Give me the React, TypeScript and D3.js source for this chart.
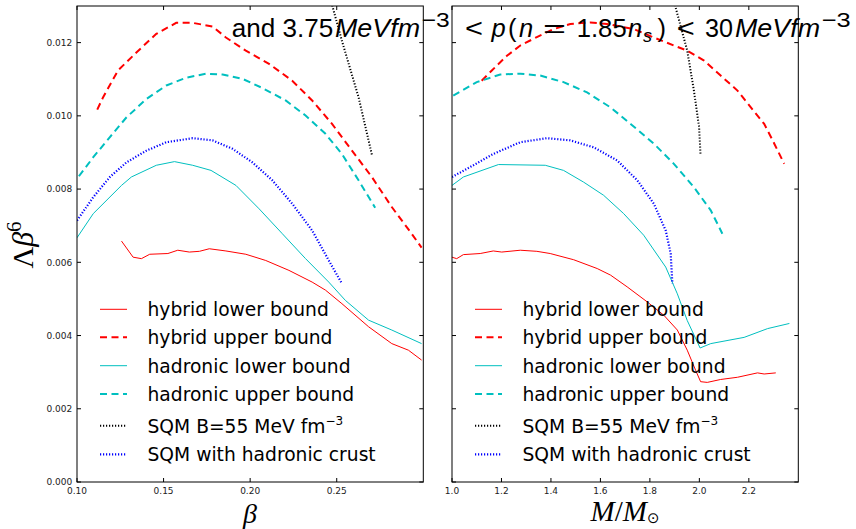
import React from 'react';
import * as d3 from 'd3';

type Pt = [number, number];

// ---- data: left panel (beta) ----
const hybridLowerBeta: Pt[] = [
  [0.1257, 0.00658], [0.1324, 0.00614], [0.1372, 0.0061], [0.142, 0.00622], [0.1525, 0.00624],
  [0.1582, 0.00633], [0.1649, 0.00628], [0.1707, 0.0063], [0.1764, 0.00637], [0.186, 0.00631],
  [0.1975, 0.00622], [0.209, 0.00605], [0.2224, 0.00578], [0.2358, 0.00546], [0.2435, 0.00524],
  [0.253, 0.00487], [0.2684, 0.00424], [0.2818, 0.00378], [0.2914, 0.0036], [0.299, 0.00333],
];
const hybridUpperBeta: Pt[] = [
  [0.1117, 0.01017], [0.1151, 0.01051], [0.1237, 0.01124], [0.1343, 0.01173], [0.1458, 0.01224],
  [0.1573, 0.01254], [0.1668, 0.01254], [0.1783, 0.01244], [0.186, 0.01214], [0.1975, 0.01178],
  [0.2109, 0.01142], [0.2243, 0.01096], [0.2358, 0.01042], [0.2473, 0.00978], [0.2588, 0.00905],
  [0.2703, 0.00833], [0.2818, 0.00751], [0.2933, 0.00678], [0.299, 0.0064],
];
const hadronicLowerBeta: Pt[] = [
  [0.1, 0.00667], [0.1094, 0.00733], [0.1257, 0.0081], [0.1314, 0.00833], [0.1458, 0.00865],
  [0.1563, 0.00875], [0.1668, 0.00865], [0.1774, 0.00851], [0.1918, 0.0081], [0.2052, 0.00746],
  [0.2186, 0.00678], [0.232, 0.0061], [0.2454, 0.00546], [0.255, 0.00496], [0.2684, 0.00442],
  [0.2818, 0.00415], [0.299, 0.00378],
];
const hadronicUpperBeta: Pt[] = [
  [0.1011, 0.00835], [0.1094, 0.00887], [0.119, 0.00942], [0.1286, 0.00996], [0.1401, 0.01046],
  [0.1516, 0.01083], [0.163, 0.01104], [0.1745, 0.01115], [0.1841, 0.01113], [0.1956, 0.01101],
  [0.2071, 0.01076], [0.2205, 0.01042], [0.232, 0.01001], [0.2435, 0.00951], [0.253, 0.00896],
  [0.2626, 0.00824], [0.2722, 0.00749],
];
const sqmBeta: Pt[] = [
  [0.2451, 0.01341], [0.253, 0.01205], [0.2626, 0.01051], [0.2703, 0.00894],
];
const sqmCrustBeta: Pt[] = [
  [0.1, 0.00714], [0.1094, 0.00778], [0.119, 0.00833], [0.1286, 0.00873], [0.1401, 0.00905],
  [0.1516, 0.00928], [0.1668, 0.00939], [0.1783, 0.00933], [0.1898, 0.0091], [0.2013, 0.00873],
  [0.2128, 0.00824], [0.2243, 0.0076], [0.2358, 0.00687], [0.2454, 0.00605], [0.253, 0.00542],
];

// ---- data: right panel (mass) ----
const hybridLowerMass: Pt[] = [
  [1.0, 0.00614], [1.019, 0.0061], [1.046, 0.00621], [1.114, 0.00624], [1.167, 0.00631],
  [1.201, 0.00628], [1.276, 0.00633], [1.343, 0.0063], [1.397, 0.00624], [1.492, 0.00607],
  [1.587, 0.00583], [1.641, 0.00565], [1.708, 0.00533], [1.789, 0.00492], [1.857, 0.00455],
  [1.911, 0.00415], [1.951, 0.0036], [1.985, 0.00305], [2.005, 0.00274], [2.032, 0.00272],
  [2.086, 0.0028], [2.154, 0.00286], [2.235, 0.00298], [2.262, 0.00295], [2.309, 0.00298],
];
const hybridUpperMass: Pt[] = [
  [1.12, 0.01096], [1.161, 0.01124], [1.222, 0.01164], [1.276, 0.01192], [1.343, 0.01215],
  [1.411, 0.01237], [1.478, 0.01251], [1.559, 0.01255], [1.627, 0.01251], [1.735, 0.01237],
  [1.816, 0.01214], [1.897, 0.01192], [1.951, 0.01178], [2.019, 0.01151], [2.086, 0.0111],
  [2.154, 0.01069], [2.208, 0.01023], [2.262, 0.00978], [2.303, 0.00924], [2.343, 0.00869],
];
const hadronicLowerMass: Pt[] = [
  [1.0, 0.0081], [1.046, 0.00833], [1.188, 0.00867], [1.377, 0.00865], [1.451, 0.00851],
  [1.532, 0.00819], [1.613, 0.00783], [1.694, 0.00733], [1.775, 0.00674], [1.864, 0.00587],
  [1.911, 0.00514], [1.951, 0.00441], [2.003, 0.00366], [2.046, 0.00378], [2.181, 0.00395],
  [2.276, 0.00419], [2.364, 0.00433],
];
const hadronicUpperMass: Pt[] = [
  [1.005, 0.01055], [1.1, 0.01092], [1.195, 0.01113], [1.276, 0.01115], [1.357, 0.0111],
  [1.451, 0.01092], [1.546, 0.01064], [1.641, 0.01023], [1.722, 0.00978], [1.816, 0.00924],
  [1.897, 0.00869], [1.978, 0.00805], [2.046, 0.00742], [2.093, 0.00678],
];
const sqmMass: Pt[] = [
  [1.896, 0.01327], [1.904, 0.01296], [1.951, 0.01178], [1.978, 0.01069], [1.999, 0.00969], [2.005, 0.00892],
];
const sqmCrustMass: Pt[] = [
  [1.0, 0.00833], [1.073, 0.0086], [1.167, 0.00896], [1.276, 0.00928], [1.384, 0.00939],
  [1.478, 0.00933], [1.573, 0.00914], [1.668, 0.00878], [1.749, 0.00824], [1.816, 0.0076],
  [1.864, 0.00687], [1.884, 0.00624], [1.891, 0.00542],
];

// ---- ticks & labels ----
const yTicks = [0, 0.002, 0.004, 0.006, 0.008, 0.01, 0.012];
const betaTicks = [0.1, 0.15, 0.2, 0.25];
const massTicks = [1.0, 1.2, 1.4, 1.6, 1.8, 2.0, 2.2];
const legendLabels = [
  'hybrid lower bound',
  'hybrid upper bound',
  'hadronic lower bound',
  'hadronic upper bound',
  'SQM B=55 MeV fm',
  'SQM with hadronic crust',
];

// styles (not data)
const styles = [
  { color: '#ff0000', width: 1, dash: undefined as string | undefined },
  { color: '#ff0000', width: 2, dash: '7,4.5' },
  { color: '#00bfbf', width: 1, dash: undefined },
  { color: '#00bfbf', width: 2, dash: '7,4.5' },
  { color: '#000000', width: 2, dash: '1.2,1.8' },
  { color: '#0000ff', width: 2.2, dash: '1.2,1.8' },
];

const W = 856;
const H = 529;
const TOP = 6;
const BOTTOM = 482;
const legendRows = [309.3, 337.3, 365.7, 394, 425.7, 454.3];

const y = d3.scaleLinear().domain([0, 0.013]).range([BOTTOM, TOP]);
const xL = d3.scaleLinear().domain([0.1, 0.3]).range([77, 423.3]);
const xR = d3.scaleLinear().domain([1.0, 2.4]).range([452, 798.3]);

function Panel(props: {
  id: string;
  x: d3.ScaleLinear<number, number>;
  series: Pt[][];
  xTicks: number[];
  fmt: (v: number) => string;
  showY: boolean;
}) {
  const { id, x, series, xTicks, fmt, showY } = props;
  const [x0, x1] = x.range();
  const line = d3
    .line<Pt>()
    .x((d) => x(d[0]))
    .y((d) => y(d[1]));
  const tickLen = 4;
  const yfmt = d3.format('.3f');
  return (
    <g>
      <defs>
        <clipPath id={id}>
          <rect x={x0} y={TOP} width={x1 - x0} height={BOTTOM - TOP} />
        </clipPath>
      </defs>
      <g clipPath={`url(#${id})`}>
        {series.map((s, i) => (
          <path
            key={i}
            d={line(s) || ''}
            fill="none"
            stroke={styles[i].color}
            strokeWidth={styles[i].width}
            strokeDasharray={styles[i].dash}
          />
        ))}
      </g>
      {xTicks.map((t) => (
        <g key={'xt' + t}>
          <line x1={x(t)} x2={x(t)} y1={BOTTOM} y2={BOTTOM - tickLen} stroke="#000" />
          <line x1={x(t)} x2={x(t)} y1={TOP} y2={TOP + tickLen} stroke="#000" />
          <text
            x={x(t)}
            y={BOTTOM + 12}
            textAnchor="middle"
            fontFamily="DejaVu Sans"
            fontSize={9}
            fill="#222"
          >
            {fmt(t)}
          </text>
        </g>
      ))}
      {yTicks.map((t) => (
        <g key={'yt' + t}>
          <line x1={x0} x2={x0 + tickLen} y1={y(t)} y2={y(t)} stroke="#000" />
          <line x1={x1} x2={x1 - tickLen} y1={y(t)} y2={y(t)} stroke="#000" />
          {showY && (
            <text
              x={x0 - 4.7}
              y={y(t) + 3.3}
              textAnchor="end"
              fontFamily="DejaVu Sans"
              fontSize={9}
              fill="#222"
            >
              {yfmt(t)}
            </text>
          )}
        </g>
      ))}
      <rect x={x0} y={TOP} width={x1 - x0} height={BOTTOM - TOP} fill="none" stroke="#000" strokeWidth={1} />
      {legendLabels.map((lab, i) => (
        <g key={'lg' + i}>
          <line
            x1={x0 + 23}
            x2={x0 + 50}
            y1={legendRows[i]}
            y2={legendRows[i]}
            stroke={styles[i].color}
            strokeWidth={styles[i].width}
            strokeDasharray={styles[i].dash}
          />
          <text x={x0 + 70.5} y={legendRows[i] + 6.8} fontFamily="DejaVu Sans" fontSize={18.7} fill="#000">
            {lab}
            {i === 4 && (
              <tspan fontSize={12} dy={-8}>
                −3
              </tspan>
            )}
          </text>
        </g>
      ))}
    </g>
  );
}

export default function App() {
  const betaSeries = [hybridLowerBeta, hybridUpperBeta, hadronicLowerBeta, hadronicUpperBeta, sqmBeta, sqmCrustBeta];
  const massSeries = [hybridLowerMass, hybridUpperMass, hadronicLowerMass, hadronicUpperMass, sqmMass, sqmCrustMass];
  const serif = '"Liberation Serif", "DejaVu Serif", serif';
  const tf = '"Liberation Sans", Arial, sans-serif';
  const base = 36.7;
  const sup = 26.5;
  const sub = base + 5;
  const adj = 'spacingAndGlyphs';
  return (
    <svg
      width={W}
      height={H}
      style={{ position: 'absolute', left: 0, top: 0, background: '#fff' }}
      xmlns="http://www.w3.org/2000/svg"
    >
      <rect x={0} y={0} width={W} height={H} fill="#fff" />
      <Panel id="clipL" x={xL} series={betaSeries} xTicks={betaTicks} fmt={d3.format('.2f')} showY={true} />
      <Panel id="clipR" x={xR} series={massSeries} xTicks={massTicks} fmt={d3.format('.1f')} showY={false} />

      {/* y label */}
      <text
        transform="translate(33,245) rotate(-90)"
        textAnchor="middle"
        fontFamily={serif}
        fontSize={30}
        fill="#000"
      >
        <tspan>Λ</tspan>
        <tspan fontStyle="italic">β</tspan>
        <tspan fontSize={21} dy={-12}>6</tspan>
      </text>

      {/* x labels */}
      <text x={250} y={523} textAnchor="middle" fontFamily={serif} fontStyle="italic" fontSize={28} fill="#000">
        β
      </text>
      <text x={625} y={521} textAnchor="middle" fontFamily={serif} fontSize={29} fill="#000">
        <tspan fontStyle="italic">M</tspan>
        <tspan>/</tspan>
        <tspan fontStyle="italic">M</tspan>
        <tspan fontFamily="DejaVu Sans" fontSize={15} dy={2}>⊙</tspan>
      </text>

      {/* title */}
      <g fontFamily={tf} fontSize={25.5} fill="#000">
        <text x={231.7} y={base} textLength={101.5} lengthAdjust={adj}>and 3.75</text>
        <text x={335} y={base} fontStyle="italic" textLength={85} lengthAdjust={adj}>MeVfm</text>
        <text x={421.7} y={sup} fontSize={21} textLength={28} lengthAdjust={adj}>−3</text>
        <text x={465} y={base} textLength={18} lengthAdjust={adj}>&lt;</text>
        <text x={491.5} y={base} fontStyle="italic">p</text>
        <text x={508} y={base}>(</text>
        <text x={519} y={base} fontStyle="italic">n</text>
        <text x={543} y={base} textLength={23} lengthAdjust={adj}>=</text>
        <text x={576.7} y={base} textLength={50} lengthAdjust={adj}>1.85</text>
        <text x={628} y={base} fontStyle="italic">n</text>
        <text x={643} y={sub} fontSize={18} fontStyle="italic">s</text>
        <text x={657.5} y={base}>)</text>
        <text x={676.7} y={base} textLength={18} lengthAdjust={adj}>&lt;</text>
        <text x={705} y={base} textLength={28} lengthAdjust={adj}>30</text>
        <text x={735} y={base} fontStyle="italic" textLength={85} lengthAdjust={adj}>MeVfm</text>
        <text x={821.7} y={sup} fontSize={21} textLength={29} lengthAdjust={adj}>−3</text>
      </g>
    </svg>
  );
}
